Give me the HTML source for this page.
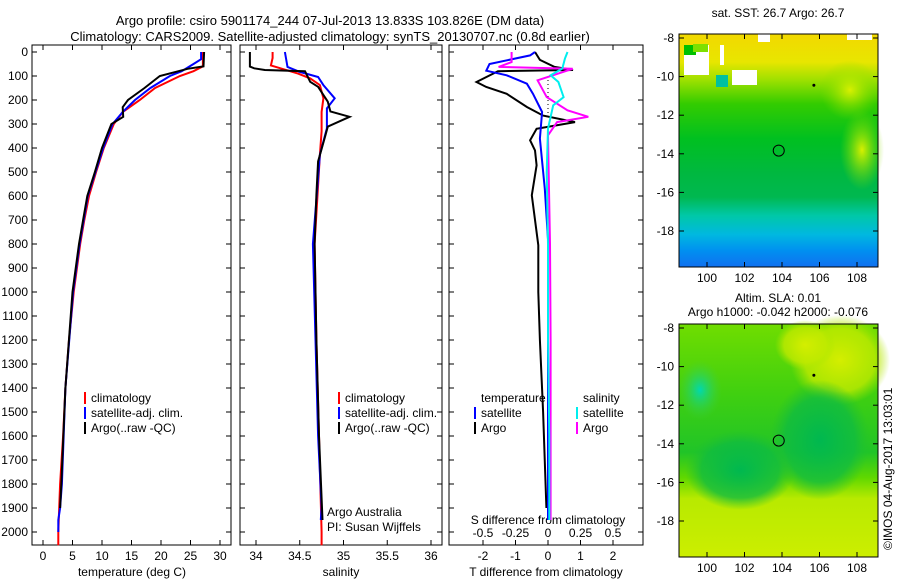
<!DOCTYPE html>
<html><head><meta charset="utf-8"><style>
body{margin:0;background:#fff}
svg{display:block;font-family:"Liberation Sans",sans-serif}
text{font-size:12px;fill:#000}
</style></head><body>
<svg id="c" width="900" height="580" viewBox="0 0 900 580">
<defs>
<linearGradient id="sst" x1="0" y1="0" x2="0" y2="1">
<stop offset="0" stop-color="#f2d800"/><stop offset="0.12" stop-color="#e8e600"/><stop offset="0.2" stop-color="#9be000"/>
<stop offset="0.3" stop-color="#33cc00"/><stop offset="0.45" stop-color="#00c020"/><stop offset="0.6" stop-color="#00b840"/>
<stop offset="0.7" stop-color="#00b850"/><stop offset="0.78" stop-color="#00c8a8"/><stop offset="0.86" stop-color="#00b8e0"/><stop offset="0.93" stop-color="#0090f0"/><stop offset="1" stop-color="#1070f0"/>
</linearGradient>
<linearGradient id="sla" x1="0" y1="0" x2="0" y2="1">
<stop offset="0" stop-color="#70dd00"/><stop offset="0.3" stop-color="#40d010"/><stop offset="0.55" stop-color="#20c428"/><stop offset="0.66" stop-color="#60d800"/><stop offset="0.75" stop-color="#b8ea00"/><stop offset="1" stop-color="#ccee00"/>
</linearGradient>
<radialGradient id="slaC" cx="0.5" cy="0.5" r="0.5"><stop offset="0" stop-color="#00b850"/><stop offset="0.7" stop-color="#10bc40" stop-opacity="0.8"/><stop offset="1" stop-color="#20c030" stop-opacity="0"/></radialGradient>
<radialGradient id="slaY" cx="0.5" cy="0.5" r="0.5"><stop offset="0" stop-color="#d4ee00"/><stop offset="0.7" stop-color="#c0ea00" stop-opacity="0.8"/><stop offset="1" stop-color="#aae600" stop-opacity="0"/></radialGradient>
<radialGradient id="slaT" cx="0.5" cy="0.5" r="0.5"><stop offset="0" stop-color="#00d8b0"/><stop offset="1" stop-color="#40d040" stop-opacity="0"/></radialGradient>
<radialGradient id="sstY" cx="0.5" cy="0.5" r="0.5"><stop offset="0" stop-color="#d8f000"/><stop offset="1" stop-color="#80dd00" stop-opacity="0"/></radialGradient>
</defs>
<text x="330" y="25" text-anchor="middle" style="font-size:13px">Argo profile: csiro 5901174_244 07-Jul-2013 13.833S 103.826E (DM data)</text>
<text x="330" y="41" text-anchor="middle" style="font-size:13px">Climatology: CARS2009. Satellite-adjusted climatology: synTS_20130707.nc (0.8d earlier)</text>
<g id="plots"></g>
<g>
<rect x="679" y="34" width="199" height="233" fill="url(#sst)"/>
<ellipse cx="862" cy="150" rx="22" ry="40" fill="url(#sstY)"/>
<ellipse cx="850" cy="90" rx="30" ry="30" fill="url(#sstY)"/>
<rect x="684" y="45" width="25" height="30" fill="#fff"/><rect x="684" y="45" width="12" height="10" fill="#00c000"/>
<rect x="693" y="44" width="15" height="8" fill="#7ee000"/>
<rect x="720" y="45" width="4" height="20" fill="#fff"/>
<rect x="732" y="70" width="25" height="15" fill="#fff"/><rect x="716" y="75" width="12" height="12" fill="#00c0a0"/>
<rect x="758" y="34" width="12" height="8" fill="#fff"/><rect x="847" y="34" width="25" height="6" fill="#fff"/>
<rect x="679" y="34" width="199" height="233" fill="none" stroke="#000"/>
</g>
<g>
<rect x="679" y="324" width="199" height="233" fill="url(#sla)"/>
<ellipse cx="840" cy="360" rx="50" ry="45" fill="url(#slaY)"/>
<ellipse cx="805" cy="345" rx="30" ry="25" fill="url(#slaY)"/>
<ellipse cx="820" cy="440" rx="50" ry="60" fill="url(#slaC)"/>
<ellipse cx="740" cy="470" rx="55" ry="40" fill="url(#slaC)"/>
<ellipse cx="700" cy="390" rx="22" ry="30" fill="url(#slaT)"/>
<rect x="679" y="324" width="199" height="233" fill="none" stroke="#000"/>
</g>
<text x="778" y="17" text-anchor="middle">sat. SST: 26.7 Argo: 26.7</text>
<text x="778" y="302" text-anchor="middle">Altim. SLA: 0.01</text>
<text x="778" y="316" text-anchor="middle">Argo h1000: -0.042 h2000: -0.076</text>
<text transform="translate(892,550) rotate(-90)">©IMOS 04-Aug-2017 13:03:01</text>
<g id="maps"></g>
</svg>
<script>
// ---- data ----
const depthTicks=[0,100,200,300,400,500,600,700,800,900,1000,1100,1200,1300,1400,1500,1600,1700,1800,1900,2000];
const tempTicks=[0,5,10,15,20,25,30];
const salTicks=[34,34.5,35,35.5,36];
const salTickLabels=["34","34.5","35","35.5","36"];
const tdiffTicks=[-2,-1,0,1,2];
const sdiffTicks=[-0.5,-0.25,0,0.25,0.5];
const sdiffTickLabels=["-0.5","-0.25","0","0.25","0.5"];
const tempClim=[[0,27.1],[60,27.1],[80,25.5],[100,23.2],[150,19],[200,16.4],[250,13.5],[300,12],[400,10.3],[500,9],[600,7.8],[700,7],[800,6.3],[1000,5.2],[1200,4.4],[1400,3.8],[1600,3.4],[1800,2.9],[2000,2.6],[2055,2.6]];
const tempSat=[[0,26.8],[30,26.8],[50,25.5],[80,23.5],[100,21.5],[150,18.2],[200,15.6],[250,13.5],[300,11.8],[400,10.2],[500,8.9],[600,7.6],[700,6.9],[800,6.2],[1000,5.1],[1400,3.8],[1800,3.2],[1900,2.9],[1950,2.6],[2000,2.6]];
const tempArgo=[[0,27.3],[60,27.2],[70,24.5],[100,19.8],[150,17.2],[200,14.4],[230,13.5],[270,13.6],[300,11.6],[400,10],[500,8.8],[600,7.5],[700,6.8],[800,6.1],[1000,5],[1400,3.8],[1800,3.1],[1900,2.9]];
const salClim=[[0,34.19],[25,34.19],[56,34.17],[68,34.28],[90,34.48],[110,34.62],[138,34.73],[193,34.77],[250,34.75],[330,34.75],[428,34.73],[800,34.67],[1200,34.69],[1600,34.72],[2000,34.75],[2055,34.75]];
const salSat=[[0,34.33],[62,34.36],[83,34.5],[104,34.71],[138,34.77],[193,34.9],[235,34.81],[318,34.81],[428,34.73],[800,34.65],[1200,34.68],[1600,34.71],[1900,34.75],[1950,34.74]];
const salArgo=[[0,33.93],[61,33.93],[68,33.98],[75,34.1],[80,34.56],[124,34.62],[145,34.71],[207,34.82],[248,34.85],[270,35.07],[311,34.82],[352,34.79],[456,34.71],[595,34.69],[800,34.67],[1200,34.69],[1600,34.72],[1950,34.76]];
const tdiffArgo=[[0,-0.4],[33,-0.25],[62,0.2],[75,0.77],[80,-1.54],[125,-2.2],[146,-1.9],[174,-1.27],[229,-0.65],[265,-0.15],[292,0.83],[320,-0.35],[368,-0.55],[410,-0.4],[472,-0.35],[597,-0.5],[805,-0.3],[1000,-0.3],[1200,-0.25],[1500,-0.15],[1900,-0.05]];
const tdiffSat=[[0,-0.4],[14,-0.55],[50,-1.8],[78,-1.9],[97,-1.27],[132,-0.65],[174,-0.46],[250,-0.18],[361,-0.25],[570,-0.1],[780,0],[1200,0],[1600,0],[1950,0]];
const sdiffArgo=[[0,-0.28],[42,-0.28],[62,-0.38],[70,0.19],[118,-0.08],[188,-0.01],[243,0.15],[270,0.31],[292,0.07],[347,0],[800,0.015],[1200,0.02],[1600,0.02],[1950,0.02]];
const sdiffSat=[[0,0.15],[28,0.13],[69,0.11],[97,0.02],[125,0.08],[188,0.12],[222,0.04],[319,0],[500,-0.01],[800,0],[1200,0],[1600,0.01],[1950,0.01]];
// ---- axes ----
const NS='http://www.w3.org/2000/svg';
const g=document.getElementById('plots');
function mk(t,a,p){const e=document.createElementNS(NS,t);for(const k in a)e.setAttribute(k,a[k]);(p||g).appendChild(e);return e;}
const yTop=52, yPer=0.24;
function yD(d){return yTop+d*yPer;}
const xT=v=>43+v*5.9, xS=v=>256+(v-34)*87.5, xTD=v=>548+v*32.5, xSD=v=>548+v*130;
const panels=[[32,231],[240,442],[449,643]];
const Y0=45,Y1=545;
panels.forEach((p,i)=>{
  const r=mk('rect',{x:p[0],y:Y0,width:p[1]-p[0],height:Y1-Y0,fill:'none',stroke:'#000'});
  
  
  depthTicks.forEach(d=>{
    mk('line',{x1:p[0],x2:p[0]+5,y1:yD(d),y2:yD(d),stroke:'#000'});
    mk('line',{x1:p[1]-5,x2:p[1],y1:yD(d),y2:yD(d),stroke:'#000'});
  });
});
depthTicks.forEach(d=>{
  const t=mk('text',{x:28,y:yD(d)+4,'text-anchor':'end'});t.textContent=d;
  
  
});
function xticks(ticks,labels,fx,pi,ly,top,bottom){
  ticks.forEach((v,i)=>{
    const x=fx(v);
    if(bottom){mk('line',{x1:x,x2:x,y1:Y1,y2:Y1-5,stroke:'#000'});}
    if(top){mk('line',{x1:x,x2:x,y1:Y0,y2:Y0+5,stroke:'#000'});}
    const t=mk('text',{x:x,y:ly,'text-anchor':'middle'});t.textContent=labels[i];
    
    
  });
}
xticks(tempTicks,tempTicks.map(String),xT,0,560,true,true);
xticks(salTicks,salTickLabels,xS,1,560,true,true);
xticks(tdiffTicks,tdiffTicks.map(String),xTD,2,560,true,true);
xticks(sdiffTicks,sdiffTickLabels,xSD,2,537,false,false);
function lbl(x,y,s,n,anchor){const t=mk('text',{x:x,y:y,'text-anchor':anchor||'middle'});t.textContent=s;}
lbl(132,576,'temperature (deg C)','x-axis-title-temperature');
lbl(341,576,'salinity','x-axis-title-salinity');
lbl(546,576,'T difference from climatology','x-axis-title-tdiff');
lbl(548,524,'S difference from climatology','sdiff-axis-title');
lbl(327,516,'Argo Australia','institution-label','start');
lbl(327,531,'PI: Susan Wijffels','pi-label','start');
const z=mk('line',{x1:xTD(0),x2:xTD(0),y1:yD(100),y2:yD(260),stroke:'#000','stroke-dasharray':'1,3'});


// ---- series ----
function series(data,fx,color,name){
  const pts=data.map(d=>fx(d[1]).toFixed(1)+','+yD(d[0]).toFixed(1)).join(' ');
  const e=mk('polyline',{points:pts,fill:'none',stroke:color,'stroke-width':2});
  
  
}
series(tempClim,xT,'#f00','temp-climatology-line');
series(tempSat,xT,'#00f','temp-satellite-line');
series(tempArgo,xT,'#000','temp-argo-line');
series(salClim,xS,'#f00','sal-climatology-line');
series(salSat,xS,'#00f','sal-satellite-line');
series(salArgo,xS,'#000','sal-argo-line');
series(tdiffArgo,xTD,'#000','tdiff-argo-line');
series(tdiffSat,xTD,'#00f','tdiff-satellite-line');
series(sdiffArgo,xSD,'#f0f','sdiff-argo-line');
series(sdiffSat,xSD,'#0ee','sdiff-satellite-line');
function leg(x,y,color,s,n){
  const m=mk('line',{x1:x,x2:x,y1:y-10,y2:y+2,stroke:color,'stroke-width':2});
  
  
  if(s)lbl(x+6,y,s,n,'start');
}
leg(85,402,'#f00','climatology','legend-climatology');
leg(85,417,'#00f','satellite-adj. clim.','legend-satellite');
leg(85,432,'#000','Argo(..raw -QC)','legend-argo');
leg(339,402,'#f00','climatology','legend2-climatology');
leg(339,417,'#00f','satellite-adj. clim.','legend2-satellite');
leg(339,432,'#000','Argo(..raw -QC)','legend2-argo');
lbl(481,402,'temperature','legend-temperature-header','start');
lbl(583,402,'salinity','legend-salinity-header','start');
leg(475,417,'#00f','satellite','legend-t-satellite');
leg(475,432,'#000','Argo','legend-t-argo');
leg(577,417,'#0ee','satellite','legend-s-satellite');
leg(577,432,'#f0f','Argo','legend-s-argo');
// ---- maps axes ----
const mg=document.getElementById('maps');
const lonTicks=[100,102,104,106,108];
const latTicks=[-8,-10,-12,-14,-16,-18];
const mLon=v=>707+(v-100)*18.75;
const maps=[{top:34,bot:267,lat0:38},{top:324,bot:557,lat0:328}];
maps.forEach((m,mi)=>{
  const mLat=v=>m.lat0+(-8-v)*19.3;
  lonTicks.forEach(v=>{
    mk('line',{x1:mLon(v),x2:mLon(v),y1:m.bot,y2:m.bot-5,stroke:'#000'},mg);
    mk('line',{x1:mLon(v),x2:mLon(v),y1:m.top,y2:m.top+5,stroke:'#000'},mg);
    const t=mk('text',{x:mLon(v),y:m.bot+15,'text-anchor':'middle'},mg);t.textContent=v;
    
    
  });
  latTicks.forEach(v=>{
    mk('line',{x1:679,x2:684,y1:mLat(v),y2:mLat(v),stroke:'#000'},mg);
    mk('line',{x1:873,x2:878,y1:mLat(v),y2:mLat(v),stroke:'#000'},mg);
    const t=mk('text',{x:674,y:mLat(v)+4,'text-anchor':'end'},mg);t.textContent=v;
    
    
  });
  const c=mk('circle',{cx:mLon(103.826),cy:mLat(-13.833),r:5.5,fill:'none',stroke:'#000'},mg);
  
  
  const is=mk('circle',{cx:mLon(105.7),cy:mLat(-10.45),r:1.5,fill:'#000'},mg);
  
  
});
</script>
</body></html>
